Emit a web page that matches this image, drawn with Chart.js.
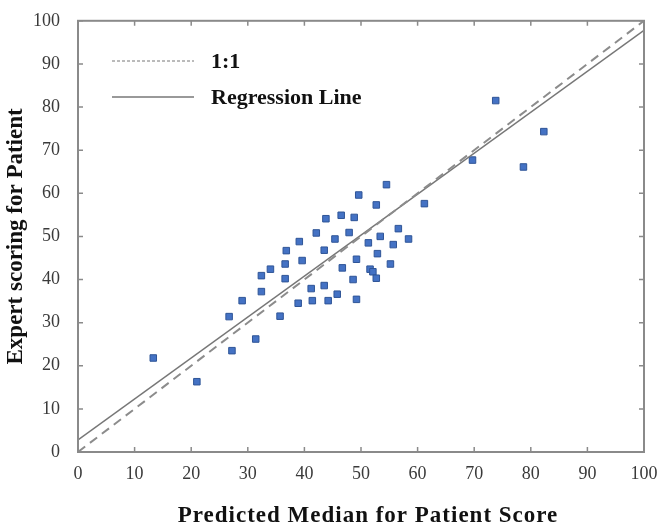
<!DOCTYPE html>
<html>
<head>
<meta charset="utf-8">
<script src="https://cdn.jsdelivr.net/npm/chart.js@4"></script>
<style>
  body { margin: 0; background: #fff; }
  #wrap { width: 661px; height: 524px; }
</style>
</head>
<body>
<div id="wrap"><canvas id="chart" width="661" height="524"></canvas></div>
<script>
// predicted median (x) vs expert score (y)
const predicted = [54.5, 49.6, 52.7, 61.2, 43.8, 46.5, 48.8, 42.1, 39.1, 45.4,
  47.9, 56.6, 53.4, 58.4, 51.3, 55.7, 36.8, 43.5, 52.9, 36.6,
  39.6, 49.2, 55.2, 34.0, 32.4, 46.7, 51.6, 52.1, 52.7, 36.6,
  48.6, 43.5, 41.2, 32.4, 45.8, 49.2, 29.0, 38.9, 41.4, 44.2,
  35.7, 13.3, 21.0, 26.7, 27.2, 31.4, 69.7, 73.8, 78.7, 82.3];
const expert = [62.0, 59.6, 57.3, 57.6, 54.1, 54.9, 54.4, 50.8, 48.8, 49.4,
  50.9, 51.8, 50.0, 49.4, 48.5, 48.1, 46.7, 46.8, 46.0, 43.6,
  44.4, 44.7, 43.6, 42.4, 40.9, 42.7, 42.4, 41.8, 40.3, 40.2,
  40.0, 38.6, 37.9, 37.2, 36.6, 35.4, 35.1, 34.5, 35.1, 35.1,
  31.5, 21.8, 16.3, 31.4, 23.5, 26.2, 67.7, 81.5, 66.1, 74.3];

const lineX = [0, 100];
const oneToOne = [0, 100];
const regression = [2.8, 97.8];

const legendItems = ['1:1', 'Regression Line'];
const xTitle = 'Predicted Median for Patient Score';

const serif = '"Liberation Serif", "Times New Roman", serif';

const frameTicks = {
  id: 'frameTicks',
  afterDraw(chart) {
    const ctx = chart.ctx;
    const a = chart.chartArea;
    const xs = chart.scales.x, ys = chart.scales.y;
    ctx.save();
    ctx.strokeStyle = '#8a8a8a';
    ctx.lineWidth = 2;
    ctx.strokeRect(a.left, a.top, a.right - a.left, a.bottom - a.top);
    ctx.lineWidth = 1.5;
    ctx.beginPath();
    xs.ticks.forEach(t => {
      const px = xs.getPixelForValue(t.value);
      ctx.moveTo(px, a.bottom); ctx.lineTo(px, a.bottom - 5);
      ctx.moveTo(px, a.top); ctx.lineTo(px, a.top + 5);
    });
    ys.ticks.forEach(t => {
      const py = ys.getPixelForValue(t.value);
      ctx.moveTo(a.left, py); ctx.lineTo(a.left + 5, py);
      ctx.moveTo(a.right, py); ctx.lineTo(a.right - 5, py);
    });
    ctx.stroke();

    // legend inside the plot
    ctx.font = 'bold 22px ' + serif;
    ctx.fillStyle = '#111';
    ctx.textBaseline = 'middle';
    const rows = [61, 97];
    legendItems.forEach((label, i) => {
      ctx.beginPath();
      ctx.strokeStyle = '#777';
      ctx.lineWidth = i === 0 ? 1 : 1.3;
      ctx.setLineDash(i === 0 ? [3, 2] : []);
      ctx.moveTo(112, rows[i]); ctx.lineTo(194, rows[i]);
      ctx.stroke();
      ctx.setLineDash([]);
      ctx.fillText(label, 211, rows[i] + 1);
    });

    // x axis title, slightly letter-spaced like the original
    ctx.font = 'bold 23px ' + serif;
    ctx.letterSpacing = '1px';
    ctx.textAlign = 'center';
    ctx.textBaseline = 'alphabetic';
    ctx.fillText(xTitle, 368, 522);
    ctx.restore();
  }
};

new Chart(document.getElementById('chart'), {
  type: 'scatter',
  data: {
    datasets: [
      {
        label: '1:1',
        type: 'line',
        data: lineX.map((x, i) => ({ x: x, y: oneToOne[i] })),
        borderColor: '#8c8c8c',
        borderWidth: 2,
        borderDash: [9, 6],
        pointRadius: 0,
        fill: false
      },
      {
        label: 'Regression Line',
        type: 'line',
        data: lineX.map((x, i) => ({ x: x, y: regression[i] })),
        borderColor: '#777',
        borderWidth: 1.6,
        pointRadius: 0,
        fill: false
      },
      {
        label: 'Patients',
        data: predicted.map((x, i) => ({ x: x, y: expert[i] })),
        pointStyle: 'rect',
        pointRadius: 4.6,
        backgroundColor: '#4472c4',
        borderColor: '#2f5597',
        borderWidth: 1
      }
    ]
  },
  options: {
    responsive: false,
    animation: false,
    layout: { padding: { top: 9, right: 17, left: 0, bottom: 0 } },
    plugins: {
      legend: { display: false },
      tooltip: { enabled: false }
    },
    scales: {
      x: {
        type: 'linear',
        min: 0, max: 100,
        ticks: { stepSize: 10, padding: 3, color: '#3a3a3a', font: { family: serif, size: 18 }, maxRotation: 0 },
        grid: { display: false },
        border: { display: false },
        title: { display: false },
        afterFit(scale) { scale.height = 72; }
      },
      y: {
        type: 'linear',
        min: 0, max: 100,
        ticks: { stepSize: 10, padding: 10, color: '#3a3a3a', font: { family: serif, size: 18 } },
        grid: { display: false },
        border: { display: false },
        title: { display: true, text: 'Expert scoring for Patient', color: '#111',
          font: { family: serif, size: 23, weight: 'bold' }, padding: { top: 2, bottom: 0 } },
        afterFit(scale) { scale.width = 78; }
      }
    }
  },
  plugins: [frameTicks]
});
</script>
</body>
</html>
